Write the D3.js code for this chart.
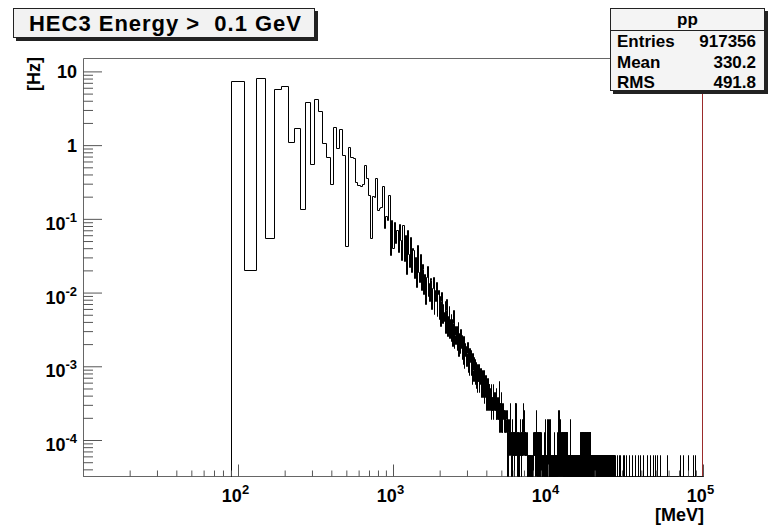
<!DOCTYPE html>
<html>
<head>
<meta charset="utf-8">
<script src="https://cdn.jsdelivr.net/npm/d3@7"></script>
<style>
  body { margin: 0; background: #fff; }
  svg { display: block; font-family: "Liberation Sans", Arial, Helvetica, sans-serif; font-weight: bold; }
</style>
</head>
<body>
<svg id="chart" width="771" height="525"></svg>
<script>
// histogram: 20 MeV bins, first bin starts at 90 MeV
const binWidth = 20;
const firstEdge = 90;
const hzPerEvent = 6.35e-5;

// rates [Hz] of the resolved bins, 90 .. 1150 MeV
const lowRates = [
  7.4, 0.020, 8.1, 0.055, 5.7, 6.4, 1.11, 1.73, 0.135, 3.9,
  0.556, 4.2, 2.94, 1.06, 0.70, 0.30, 1.75, 0.91, 1.64, 0.74,
  0.043, 0.95, 0.70, 0.66, 0.32, 0.29, 0.28, 0.30, 0.54, 0.355,
  0.21, 0.055, 0.204, 0.20, 0.355, 0.132, 0.14, 0.147, 0.28, 0.074,
  0.11, 0.097, 0.21, 0.032, 0.097, 0.040, 0.092, 0.047, 0.071, 0.036,
  0.085, 0.052, 0.028
];

// events per bin, 1150 .. 6150 MeV
const midCounts = [
  1300, 420, 950, 280, 1100, 520, 350, 900, 300, 640,
  600, 250, 480, 190, 700, 300, 220, 520, 170, 380,
  330, 150, 280, 110, 260, 360, 140, 210, 120, 250,
  230, 95, 180, 260, 80, 170, 120, 220, 75, 150,
  170, 70, 140, 55, 120, 160, 60, 110, 85, 65,
  120, 45, 90, 130, 40, 75, 55, 105, 38, 70,
  80, 35, 70, 30, 60, 90, 28, 55, 42, 32,
  55, 26, 40, 62, 22, 45, 30, 24, 50, 28,
  42, 20, 35, 17, 40, 26, 15, 33, 22, 30,
  30, 16, 24, 34, 13, 26, 20, 12, 28, 18,
  26, 12, 20, 15, 9, 24, 14, 10, 21, 13,
  20, 9, 15, 8, 18, 12, 7, 17, 10, 13,
  10, 17, 7, 13, 9, 15, 6, 12, 14, 8,
  12, 6, 13, 8, 14, 5, 11, 7, 12, 6,
  10, 5, 12, 4, 9, 6, 11, 8, 4, 9,
  8, 9, 4, 7, 5, 8, 3, 9, 6, 4,
  6, 4, 9, 5, 3, 6, 5, 4, 7, 4,
  5, 4, 3, 8, 4, 3, 5, 4, 6, 3,
  4, 5, 3, 10, 4, 2, 5, 3, 4, 5,
  3, 4, 7, 2, 4, 2, 5, 3, 3, 4,
  4, 3, 4, 2, 2, 3, 3, 2, 4, 3,
  3, 2, 2, 4, 2, 3, 0, 2, 3, 2,
  2, 1, 3, 2, 2, 1, 2, 5, 2, 1,
  2, 2, 1, 0, 3, 2, 1, 2, 1, 2,
  1, 2, 1, 2, 0, 2, 1, 5, 1, 2
];

// events per bin, 6150 .. 27150 MeV, one digit per bin (50 bins a row)
const tailCounts = [
  "15212120122101201021123211202121213452124211221212",
  "11211121010110101101001011010110100101101101021212",
  "21202121022141201210202101212021021201021010110010",
  "01011010011010012010013010110100101013011012030101",
  "10301010013010110100101101001011010021010100110101",
  "01101010011010101221012021412012102121021230121012",
  "21012012102120120102101202120120121012102102120121",
  "02101210010101100101101001011010011013010010110100",
  "10100101101001011010010110010101101001011010010011",
  "01011010010110100101100101101001011001101010100102",
  "12010210120210120102102120120102102101210120102101",
  "21021012012012101021012012101021012021012010121021",
  "01210120102101201020121012010100101101001010010110",
  "01001011010010100101101001001010010100100101001011",
  "00101001010100101001001011001010010010100100101001",
  "10010100100101001001010010010100100101001010010010",
  "01001001010010100100100100101001001010010010010010",
  "10010010100100100100101001001001001001010010010100",
  "01001001001001010010001001001010010010010100100100",
  "10010010001001001010010010010010010001010010010010",
  "01001001001001001001001001010010010001000000000000"
].join('');

// single events above the dense part [MeV]
const sparseEvents = [
  27900, 28900, 29300, 30300, 31000, 31800, 33100, 34700, 36400, 38100,
  39300, 40900, 43500, 45700, 47700, 48900, 50500, 53100, 58200, 71200,
  74100, 80600, 86800, 88900
];

const yMajor = [1e-4, 1e-3, 1e-2, 1e-1, 1, 10];
const yLabels = [['10', '-4'], ['10', '-3'], ['10', '-2'], ['10', '-1'], ['1', ''], ['10', '']];
const xMajor = [1e2, 1e3, 1e4, 1e5];
const xLabels = [['10', '2'], ['10', '3'], ['10', '4'], ['10', '5']];

const title = 'HEC3 Energy >  0.1 GeV';
const statsName = 'pp';
const statsRows = [['Entries', '917356'], ['Mean', '330.2'], ['RMS', '491.8']];

const svg = d3.select('#chart');
const frame = {left: 83, right: 703, top: 58, bottom: 476};

const x = d3.scaleLog().domain([10, 1e5]).range([frame.left, frame.right]);
const y = d3.scaleLog().domain([3.25e-5, 15.2]).range([frame.bottom, frame.top]);

// fill the bin array
const nBins = Math.floor((1e5 - firstEdge) / binWidth);
const values = new Array(nBins).fill(0);
lowRates.forEach((v, i) => values[i] = v);
midCounts.forEach((c, i) => values[lowRates.length + i] = c * hzPerEvent);
tailCounts.split('').forEach((c, i) => values[lowRates.length + midCounts.length + i] = +c * hzPerEvent);
sparseEvents.forEach(e => { values[Math.floor((e - firstEdge) / binWidth)] += hzPerEvent; });

// clip
svg.append('defs').append('clipPath').attr('id', 'clip')
  .append('rect')
  .attr('x', frame.left).attr('y', frame.top)
  .attr('width', frame.right - frame.left + 1)
  .attr('height', frame.bottom - frame.top + 1);

// frame lines
svg.append('path')
  .attr('d', `M${frame.left + 0.5},${frame.bottom + 0.5}V${frame.top + 0.5}H${frame.right}M${frame.left},${frame.bottom + 0.5}H${frame.right + 1}`)
  .attr('fill', 'none')
  .attr('stroke', '#666');

// histogram outline
const snap = v => Math.round(v) + 0.5;
const yOf = v => v > y.domain()[0] ? Math.max(frame.top, y(v)) : frame.bottom;
let d = `M${snap(x(firstEdge))},${frame.bottom + 2}`;
values.forEach((v, i) => {
  const x0 = snap(x(firstEdge + i * binWidth));
  const x1 = snap(x(firstEdge + (i + 1) * binWidth));
  const yy = snap(yOf(v));
  d += `L${x0},${yy}L${x1},${yy}`;
});
d += `L${snap(x(firstEdge + nBins * binWidth))},${frame.bottom + 2}`;

svg.append('path')
  .attr('clip-path', 'url(#clip)')
  .attr('d', d)
  .attr('fill', 'none')
  .attr('stroke', '#000')
  .attr('stroke-width', 1);

// y axis ticks
const yMinor = y.ticks().filter(t => !yMajor.includes(t));
const yAxisMinor = d3.axisRight(y).tickValues(yMinor).tickSize(10).tickFormat('');
const yAxisMajor = d3.axisRight(y).tickValues(yMajor).tickSize(19).tickFormat('');
[yAxisMinor, yAxisMajor].forEach(ax => {
  const g = svg.append('g').attr('transform', `translate(${frame.left},0)`).call(ax);
  g.select('.domain').remove();
  g.selectAll('line').attr('stroke', '#555');
});

// x axis ticks
const xMinor = x.ticks().filter(t => !xMajor.includes(t) && t > 10);
const xAxisMinor = d3.axisTop(x).tickValues(xMinor).tickSize(6).tickFormat('');
const xAxisMajor = d3.axisTop(x).tickValues(xMajor).tickSize(12).tickFormat('');
[xAxisMinor, xAxisMajor].forEach(ax => {
  const g = svg.append('g').attr('transform', `translate(0,${frame.bottom + 0.5})`).call(ax);
  g.select('.domain').remove();
  g.selectAll('line').attr('stroke', '#555');
});

// y labels
svg.selectAll('.ylab').data(yMajor)
  .join('text')
  .attr('class', 'ylab')
  .attr('x', 77)
  .attr('y', (t, i) => y(t) + (yLabels[i][1] ? 11 : 6.5))
  .attr('text-anchor', 'end')
  .style('font-size', '18px')
  .each(function(t, i) {
    const el = d3.select(this);
    el.append('tspan').text(yLabels[i][0]);
    if (yLabels[i][1]) el.append('tspan').attr('dy', -8).style('font-size', '13px').text(yLabels[i][1]);
  });

// x labels
svg.selectAll('.xlab').data(xMajor)
  .join('text')
  .attr('class', 'xlab')
  .attr('x', t => x(t) - 2.5)
  .attr('y', 502)
  .attr('text-anchor', 'middle')
  .style('font-size', '18px')
  .each(function(t, i) {
    const el = d3.select(this);
    el.append('tspan').text(xLabels[i][0]);
    el.append('tspan').attr('dy', -8).style('font-size', '13px').text(xLabels[i][1]);
  });

// axis titles
svg.append('text')
  .attr('x', 704).attr('y', 521)
  .attr('text-anchor', 'end')
  .style('font-size', '18px')
  .text('[MeV]');

svg.append('text')
  .attr('transform', 'translate(40,57) rotate(-90)')
  .attr('text-anchor', 'end')
  .style('font-size', '18px')
  .text('[Hz]');

// red right edge of the frame
svg.append('line')
  .attr('x1', frame.right - 0.5).attr('x2', frame.right - 0.5)
  .attr('y1', 91).attr('y2', frame.bottom)
  .attr('stroke', '#9b2b2b');

// title box
svg.append('rect').attr('x', 16).attr('y', 11).attr('width', 302).attr('height', 30).attr('fill', '#222');
svg.append('rect').attr('x', 13.5).attr('y', 8.5).attr('width', 301).attr('height', 29)
  .attr('fill', '#f2f2f2').attr('stroke', '#222');
svg.append('text')
  .attr('x', 165).attr('y', 30.5)
  .attr('text-anchor', 'middle')
  .attr('textLength', 272)
  .attr('lengthAdjust', 'spacing')
  .style('font-size', '22px')
  .style('white-space', 'pre')
  .text(title);

// stats box
const stats = svg.append('g');
stats.append('rect').attr('x', 613).attr('y', 11).attr('width', 155).attr('height', 83).attr('fill', '#222');
stats.append('rect').attr('x', 610.5).attr('y', 8.5).attr('width', 154).attr('height', 82)
  .attr('fill', '#f4f4f4').attr('stroke', '#222');
stats.append('line').attr('x1', 610.5).attr('x2', 764.5).attr('y1', 30.5).attr('y2', 30.5).attr('stroke', '#222');
stats.append('text')
  .attr('x', 687.5).attr('y', 25)
  .attr('text-anchor', 'middle')
  .style('font-size', '17px')
  .text(statsName);

const rowY = [46.5, 67.5, 87.5];
stats.selectAll('.slab').data(statsRows)
  .join('text')
  .attr('class', 'slab')
  .attr('x', 617).attr('y', (r, i) => rowY[i])
  .style('font-size', '17px')
  .text(r => r[0]);
stats.selectAll('.sval').data(statsRows)
  .join('text')
  .attr('class', 'sval')
  .attr('x', 756).attr('y', (r, i) => rowY[i])
  .attr('text-anchor', 'end')
  .style('font-size', '17px')
  .text(r => r[1]);
</script>
</body>
</html>
